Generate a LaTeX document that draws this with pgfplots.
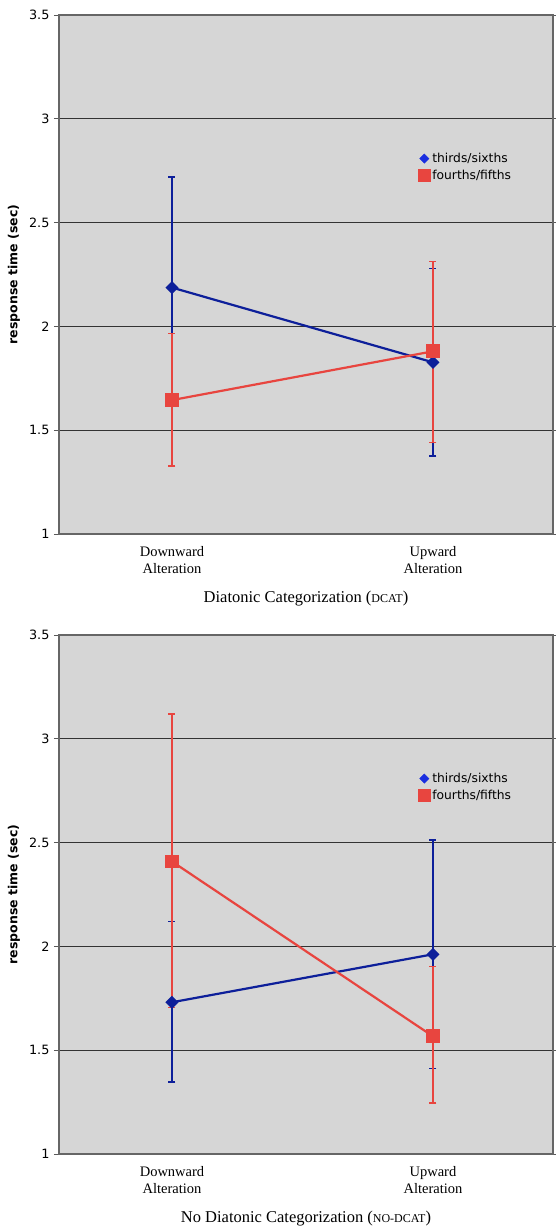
\documentclass[border=0pt]{standalone}
\usepackage{fontspec}
\setmainfont{Liberation Serif}
\newfontfamily\dejavu{DejaVu Sans}
\usepackage{pgfplots}
\pgfplotsset{compat=1.18}
\definecolor{bgray}{HTML}{D6D6D6}
\definecolor{navy}{HTML}{0D1F9A}
\definecolor{navyleg}{HTML}{1A2EE0}
\definecolor{redc}{HTML}{E8453F}
\pgfplotsset{rt/.style={
  scale only axis, width=494pt, height=519pt,
  xmin=-0.433, xmax=1.46, ymin=1, ymax=3.5,
  ytick={1,1.5,2,2.5,3,3.5},
  yticklabels={1,1.5,2,2.5,3,3.5},
  ymajorgrids, grid style={black!80, line width=0.9pt},
  xtick={0,1},
  xticklabels={{Downward\\Alteration},{Upward\\Alteration}},
  xticklabel style={align=center, font=\fontsize{14.5}{17}\selectfont, yshift=-4pt},
  major x tick style={draw=none},
  tick align=outside, major tick length=5pt,
  major y tick style={gray!70!black, line width=0.8pt},
  yticklabel style={font=\dejavu\fontsize{12.8}{14}\selectfont, xshift=-1pt},
  ylabel={response time (sec)},
  every axis y label/.style={at={(axis description cs:-0.091,0.5)}, rotate=90, anchor=center, font=\dejavu\bfseries\fontsize{12.5}{14}\selectfont},
  every axis x label/.style={at={(axis description cs:0.5,0)}, anchor=center, yshift=-65pt, font=\fontsize{16.5}{19}\selectfont},
  axis background/.style={fill=bgray},
  axis line style={gray!80!black, line width=1.4pt},
  legend style={draw=none, fill=none, at={(0.727,0.738)}, anchor=north west,
    font=\dejavu\fontsize{12.3}{15}\selectfont, row sep=2pt, inner sep=0pt,
    legend image code/.code={\path (-5pt,0pt) (5pt,0pt); \draw[##1] plot coordinates {(0pt,0pt)};}},
  legend cell align=left,
  blueline/.style={color=navy, line width=2.2pt, mark=square*, mark size=3.5pt, mark options={rotate=45, solid},
    error bars/y dir=both, error bars/y explicit,
    error bars/error mark options={rotate=90, mark size=3.5pt, line width=1.4pt, navy},
    error bars/error bar style={line width=1.4pt, navy}},
  redline/.style={color=redc, line width=2.2pt, mark=square*, mark size=5.8pt,
    error bars/y dir=both, error bars/y explicit,
    error bars/error mark options={rotate=90, mark size=3.5pt, line width=1.4pt, redc},
    error bars/error bar style={line width=1.4pt, redc}},
}}
\begin{document}
\begin{tikzpicture}
\path[use as bounding box] (-59pt,15pt) rectangle (496pt,-1214pt);
\begin{axis}[rt, at={(0pt,0pt)}, anchor=north west,
  xlabel={Diatonic Categorization ({\fontsize{12}{14}\selectfont DCAT})}]
\addlegendimage{only marks, mark=square*, mark size=3.3pt, mark options={rotate=45}, color=navyleg}
\addlegendentry{thirds/sixths}
\addlegendimage{only marks, mark=square*, mark size=6pt, color=redc}
\addlegendentry{fourths/fifths}
\addplot[forget plot, blueline] coordinates {
  (0,2.187) += (0,0.533) -= (0,0.538)
  (1,1.827) += (0,0.452) -= (0,0.452)
};
\addplot[forget plot, redline] coordinates {
  (0,1.645) += (0,0.321) -= (0,0.318)
  (1,1.880) += (0,0.432) -= (0,0.438)
};
\end{axis}
\begin{axis}[rt, at={(0pt,-620pt)}, anchor=north west,
  xlabel={No Diatonic Categorization ({\fontsize{12}{14}\selectfont NO-DCAT})}]
\addlegendimage{only marks, mark=square*, mark size=3.3pt, mark options={rotate=45}, color=navyleg}
\addlegendentry{thirds/sixths}
\addlegendimage{only marks, mark=square*, mark size=6pt, color=redc}
\addlegendentry{fourths/fifths}
\addplot[forget plot, blueline] coordinates {
  (0,1.731) += (0,0.390) -= (0,0.385)
  (1,1.962) += (0,0.550) -= (0,0.549)
};
\addplot[forget plot, redline] coordinates {
  (0,2.409) += (0,0.711) -= (0,0.702)
  (1,1.567) += (0,0.337) -= (0,0.322)
};
\end{axis}
\end{tikzpicture}
\end{document}
